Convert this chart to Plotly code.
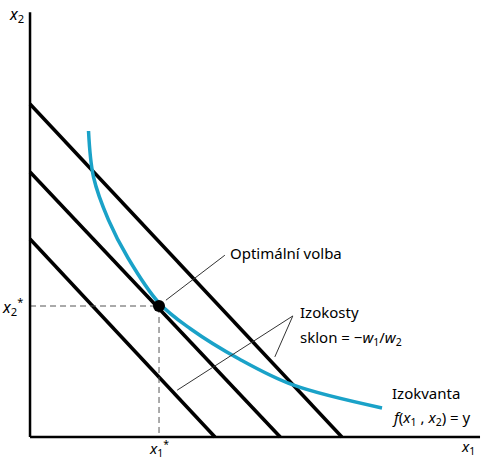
import plotly.graph_objects as go

# isocost lines: intercepts on each axis
isocost_x_int = [4.11, 5.56, 6.93]
isocost_y_int = [4.40, 5.89, 7.40]

# isoquant
iq_x1 = [1.300, 1.411, 1.744, 2.178, 2.867, 3.556, 4.667, 5.844, 7.822]
iq_x2 = [6.800, 5.778, 4.822, 3.978, 2.978, 2.411, 1.722, 1.156, 0.644]

# optimal choice
opt_x1 = 2.867
opt_x2 = 2.911

x_max = 10.0
y_max = 9.44

FONT = "Noto Sans"
BLUE = "#1aa2c8"

fig = go.Figure()

for xi, yi in zip(isocost_x_int, isocost_y_int):
    fig.add_trace(go.Scatter(x=[0, xi], y=[yi, 0], mode="lines",
                             line=dict(color="black", width=3.5), hoverinfo="none"))

fig.add_trace(go.Scatter(x=iq_x1, y=iq_x2, mode="lines",
                         line=dict(color=BLUE, width=3.5, shape="spline", smoothing=1.0),
                         hoverinfo="none"))

# dashed guides
fig.add_trace(go.Scatter(x=[0, opt_x1, opt_x1], y=[opt_x2, opt_x2, 0], mode="lines",
                         line=dict(color="#555", width=1, dash="6px,4px"), hoverinfo="none"))

fig.add_trace(go.Scatter(x=[opt_x1], y=[opt_x2], mode="markers",
                         marker=dict(color="black", size=12), hoverinfo="none"))

shapes = [
    # axes
    dict(type="line", x0=0, y0=0, x1=x_max, y1=0, line=dict(color="black", width=2.5)),
    dict(type="line", x0=0, y0=0, x1=0, y1=y_max, line=dict(color="black", width=2.5)),
    # leader lines
    dict(type="line", x0=3.02, y0=3.04, x1=4.33, y1=4.04, line=dict(color="#333", width=1)),
    dict(type="line", x0=5.84, y0=2.69, x1=3.27, y1=1.04, line=dict(color="#333", width=1)),
    dict(type="line", x0=5.84, y0=2.69, x1=5.44, y1=1.78, line=dict(color="#333", width=1)),
]

def txt(x, y, s, anchor="left", size=15):
    return dict(x=x, y=y, text=s, showarrow=False, xanchor=anchor, yanchor="middle",
                font=dict(family=FONT, size=size, color="black"))

annotations = [
    txt(4.40, 4.09, "Optimální volba"),
    txt(5.96, 2.78, "Izokosty"),
    txt(5.96, 2.20, "sklon = −<i>w</i><sub>1</sub>/<i>w</i><sub>2</sub>"),
    txt(8.00, 0.98, "Izokvanta"),
    txt(8.00, 0.42, "<i>f</i>(<i>x</i><sub>1</sub> , <i>x</i><sub>2</sub>) = y"),
    txt(-0.29, 9.38, "<i>x</i><sub>2</sub>", "center", 16),
    txt(9.74, -0.22, "<i>x</i><sub>1</sub>", "center", 15),
    txt(-0.11, opt_x2, "<i>x</i><sub>2</sub><sup>*</sup>", "right", 16),
    txt(opt_x1, -0.26, "<i>x</i><sub>1</sub><sup>*</sup>", "center", 15),
]

fig.update_layout(
    width=482, height=459,
    showlegend=False,
    paper_bgcolor="white",
    plot_bgcolor="white",
    margin=dict(l=0, r=0, t=0, b=0),
    xaxis=dict(range=[-0.667, 10.044], visible=False),
    yaxis=dict(range=[-0.489, 9.711], visible=False),
    shapes=shapes,
    annotations=annotations,
)

# drop the page's default body margin so the figure sits at the window corner
fig.write_html("out.html", config={"displayModeBar": False},
               post_script="document.body.style.margin='0';")
